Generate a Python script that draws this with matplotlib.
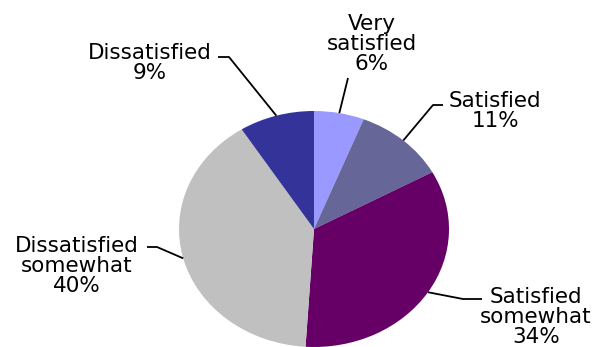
import numpy as np
import matplotlib.pyplot as plt

# Survey results: satisfaction breakdown
categorias = ['Very\nsatisfied', 'Satisfied', 'Satisfied\nsomewhat',
              'Dissatisfied\nsomewhat', 'Dissatisfied']
porcentajes = [6, 11, 34, 40, 9]
colores = ['#9999FF', '#666699', '#660066', '#C0C0C0', '#333399']

# Label layout in pixels (text centre, leader elbow, leader end)
pos_texto = [(372, 44), (495, 111), (536, 317), (77, 266), (150, 63)]
codos = [None, (433, 105), (463, 299), (157, 247), (229, 57)]
finales = [(348, 78), (443, 105), (482, 299), (147, 247), (218, 57)]

W, H = 598, 347
CX, CY = 314, 229       # pie centre (px)
RX, RY = 135, 118       # horizontal / vertical radius (px)
K = RX / RY


def px(x, y):
    """Pixel position -> data coordinates of the full-figure axes."""
    return x, (H - y) * K


fig = plt.figure(figsize=(W / 100, H / 100), dpi=100)
ax = fig.add_axes([0, 0, 1, 1])

ax.pie(porcentajes, colors=colores, startangle=90, counterclock=False,
       center=px(CX, CY), radius=RX, frame=True,
       wedgeprops=dict(linewidth=0))
ax.set_aspect('auto')
ax.set_xlim(0, W)
ax.set_ylim(0, H * K)
ax.axis('off')

acum = np.cumsum([0] + porcentajes)
for i, (cat, val) in enumerate(zip(categorias, porcentajes)):
    ang = np.deg2rad(90 - (acum[i] + val / 2) * 3.6)
    ancla = px(CX + RX * np.cos(ang), CY - RY * np.sin(ang))
    puntos = [ancla]
    if codos[i] is not None:
        puntos.append(px(*codos[i]))
    puntos.append(px(*finales[i]))
    xs, ys = zip(*puntos)
    ax.plot(xs, ys, color='black', lw=1.3, solid_capstyle='butt')
    tx, ty = px(*pos_texto[i])
    ax.text(tx, ty, f'{cat}\n{val}%', ha='center', va='center',
            fontsize=15.5, family='DejaVu Sans', linespacing=1.0)

fig.savefig('out.png', dpi=100)
